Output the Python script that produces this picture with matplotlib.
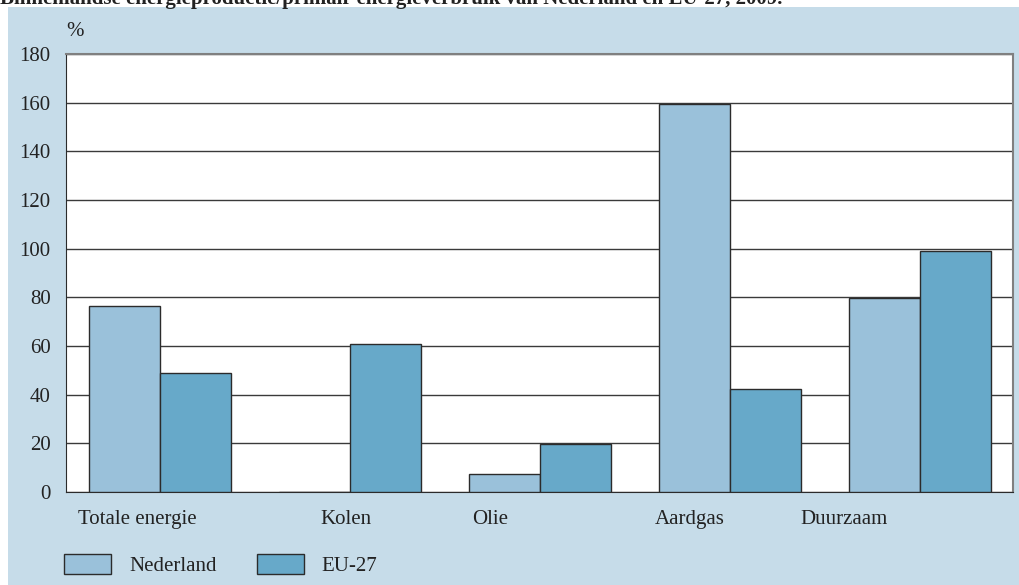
import matplotlib
matplotlib.use('Agg')
import matplotlib.pyplot as plt
from matplotlib.patches import Rectangle, Patch
import numpy as np

categorieen = ['Totale energie', 'Kolen', 'Olie', 'Aardgas', 'Duurzaam']
nederland = [76.4, 0, 7.2, 159.3, 79.8]
eu27 = [49.0, 61.0, 19.8, 42.3, 99.2]
label_pos = [-0.12, 0.98, 1.74, 2.79, 3.6]
yticks = list(range(0, 181, 20))

kleur_nl = '#9ac1da'
kleur_eu = '#67a9c9'
achtergrond = '#c6dce9'
tekst = '#222222'
fs = 15

plt.rcParams['font.family'] = ['Liberation Serif', 'DejaVu Serif']

fig = plt.figure(figsize=(10.19, 5.85), dpi=100, facecolor='white')
fig.patches.append(Rectangle((8 / 1019, 0), 1, 1 - 7 / 585, transform=fig.transFigure,
                             facecolor=achtergrond, edgecolor='none', zorder=-10))
# titel loopt boven de rand weg, zoals in het origineel
fig.text(0.0, 0.994, 'Binnenlandse energieproductie/primair energieverbruik van Nederland en EU-27, 2009.',
         fontsize=15, fontweight='bold', va='baseline', ha='left', color=tekst)

ax = fig.add_axes([66 / 1019, 1 - 492 / 585, 947 / 1019, 438 / 585])
ax.set_facecolor('white')

x = np.arange(len(categorieen))
w = 0.372
ax.bar(x - w / 2, nederland, w, color=kleur_nl, edgecolor='#2b2b2b', linewidth=1, zorder=3)
ax.bar(x + w / 2, eu27, w, color=kleur_eu, edgecolor='#2b2b2b', linewidth=1, zorder=3)

ax.set_xlim(-0.495, 4.49)
ax.set_ylim(0, 180)
ax.set_yticks(yticks)
ax.set_yticklabels([str(t) for t in yticks], fontsize=fs, color=tekst)
ax.set_xticks(label_pos)
ax.set_xticklabels(categorieen, fontsize=fs, color=tekst)
ax.tick_params(length=0)
ax.tick_params(axis='y', pad=11)
ax.tick_params(axis='x', pad=13)
ax.grid(axis='y', color='#3a3a3a', linewidth=1, zorder=0)
for s in ['top', 'right']:
    ax.spines[s].set_color('#808080')
    ax.spines[s].set_linewidth(1.5)
ax.spines['left'].set_color('#2b2b2b')
ax.spines['bottom'].set_color('#2b2b2b')

fig.text(66 / 1019, 1 - 31 / 585, '%', fontsize=fs, va='center', ha='left', color=tekst)

handles = [Patch(facecolor=kleur_nl, edgecolor='#2b2b2b', label='Nederland'),
           Patch(facecolor=kleur_eu, edgecolor='#2b2b2b', label='EU-27')]
leg = fig.legend(handles=handles, loc='center left', bbox_to_anchor=(56 / 1019, 1 - 565 / 585),
                 ncol=2, frameon=False, fontsize=fs, handlelength=2.25, handleheight=1.15,
                 handletextpad=0.85, columnspacing=1.95, borderaxespad=0)
for t in leg.get_texts():
    t.set_color(tekst)

fig.savefig('out.png', dpi=100, facecolor=fig.get_facecolor())
